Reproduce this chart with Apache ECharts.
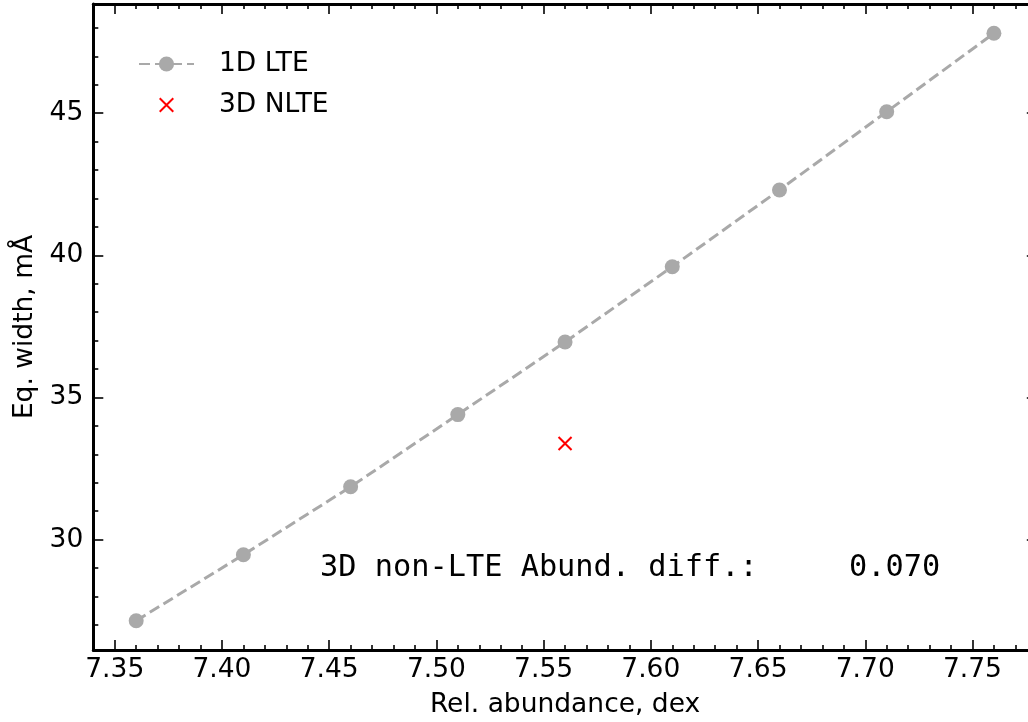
<!DOCTYPE html>
<html>
<head>
<meta charset="utf-8">
<script src="https://cdn.jsdelivr.net/npm/echarts@6/dist/echarts.min.js"></script>
<style>html,body{margin:0;padding:0;background:#fff;}#c{width:1028px;height:722px;}</style>
</head>
<body>
<div id="c"></div>
<script>
// Data
const abundance = [7.36, 7.41, 7.46, 7.51, 7.56, 7.61, 7.66, 7.71, 7.76];
const eqWidth1D = [27.15, 29.47, 31.86, 34.40, 36.95, 39.60, 42.30, 45.05, 47.81];
const nlteAbund = [7.56];
const nlteWidth = [33.38];
const xTicks = [7.35, 7.40, 7.45, 7.50, 7.55, 7.60, 7.65, 7.70, 7.75];
const yTicks = [30, 35, 40, 45];
const annotation = "3D non-LTE Abund. diff.:     0.070";

const X_MIN = 7.34, X_MAX = 7.78, Y_MIN = 26.12, Y_MAX = 48.84;
const xMinor = [];
for (let i = 734; i <= 778; i++) { const v = i / 100; if (!xTicks.some(t => Math.abs(t - v) < 1e-6)) xMinor.push(v); }
const yMinor = [];
for (let i = 27; i <= 48; i++) { if (!yTicks.includes(i)) yMinor.push(i); }

const FONT = 'DejaVu Sans';
const black = '#000';

function xAx(pos, ticks, len, labels, line) {
  return {
    type: 'value', position: pos, min: X_MIN, max: X_MAX,
    axisLine: { show: line, onZero: false, lineStyle: { color: black, width: 3 } },
    axisTick: { show: true, inside: true, length: len, customValues: ticks, lineStyle: { color: black, width: 1.6 } },
    axisLabel: labels ? { show: true, customValues: ticks, margin: 7, color: black, fontFamily: FONT, fontSize: 26.5,
      formatter: v => v.toFixed(2) } : { show: false },
    splitLine: { show: false },
    name: labels ? 'Rel. abundance, dex' : '',
    nameLocation: 'middle', nameGap: 42,
    nameTextStyle: { color: black, fontFamily: FONT, fontSize: 26.5 }
  };
}
function yAx(pos, ticks, len, labels, line) {
  return {
    type: 'value', position: pos, min: Y_MIN, max: Y_MAX,
    axisLine: { show: line, onZero: false, lineStyle: { color: black, width: 3 } },
    axisTick: { show: true, inside: true, length: len, customValues: ticks, lineStyle: { color: black, width: 1.6 } },
    axisLabel: labels ? { show: true, customValues: ticks, margin: 10, color: black, fontFamily: FONT, fontSize: 26.5,
      formatter: v => String(v) } : { show: false },
    splitLine: { show: false },
    name: labels ? 'Eq. width, mÅ' : '',
    nameLocation: 'middle', nameGap: 50,
    nameTextStyle: { color: black, fontFamily: FONT, fontSize: 26.5 }
  };
}

const chart = echarts.init(document.getElementById('c'), null, { renderer: 'canvas' });
chart.setOption({
  animation: false,
  backgroundColor: '#fff',
  grid: { left: 93.3, top: 4, width: 943.5, height: 646, containLabel: false, outerBoundsMode: 'none' },
  xAxis: [
    xAx('bottom', xTicks, 10, true, true),
    xAx('bottom', xMinor, 5, false, false),
    xAx('top', xTicks, 10, false, true),
    xAx('top', xMinor, 5, false, false)
  ],
  yAxis: [
    yAx('left', yTicks, 10, true, true),
    yAx('left', yMinor, 5, false, false),
    yAx('right', yTicks, 10, false, true),
    yAx('right', yMinor, 5, false, false)
  ],
  legend: {
    orient: 'vertical', left: 138, top: 49, padding: 0,
    itemWidth: 55, itemHeight: 19, itemGap: 11,
    textStyle: { color: black, fontFamily: FONT, fontSize: 26.5, lineHeight: 30, padding: [0, 0, 0, 20] },
    data: [
      { name: '1D LTE' },
      { name: '3D NLTE', icon: 'path://M-2,-2L-2,-2M0,0L10,10M10,0L0,10M12,12L12,12' }
    ]
  },
  series: [
    {
      name: '1D LTE', type: 'line', xAxisIndex: 0, yAxisIndex: 0,
      data: abundance.map((x, i) => [x, eqWidth1D[i]]),
      symbol: 'circle', symbolSize: 15,
      itemStyle: { color: '#a9a9a9' },
      lineStyle: { color: '#a9a9a9', width: 3, type: [11, 5] }
    },
    {
      name: '3D NLTE', type: 'scatter', xAxisIndex: 0, yAxisIndex: 0,
      data: nlteAbund.map((x, i) => [x, nlteWidth[i]]),
      symbol: 'path://M0,0L10,10M10,0L0,10', symbolSize: 13,
      itemStyle: { color: 'rgba(0,0,0,0)', borderColor: '#ff0000', borderWidth: 2, opacity: 1 }
    }
  ],
  graphic: [{
    type: 'text', left: 320, top: 553,
    style: { text: annotation, fill: black, font: '30.3px "DejaVu Sans Mono"' }
  }]
});
</script>
</body>
</html>
